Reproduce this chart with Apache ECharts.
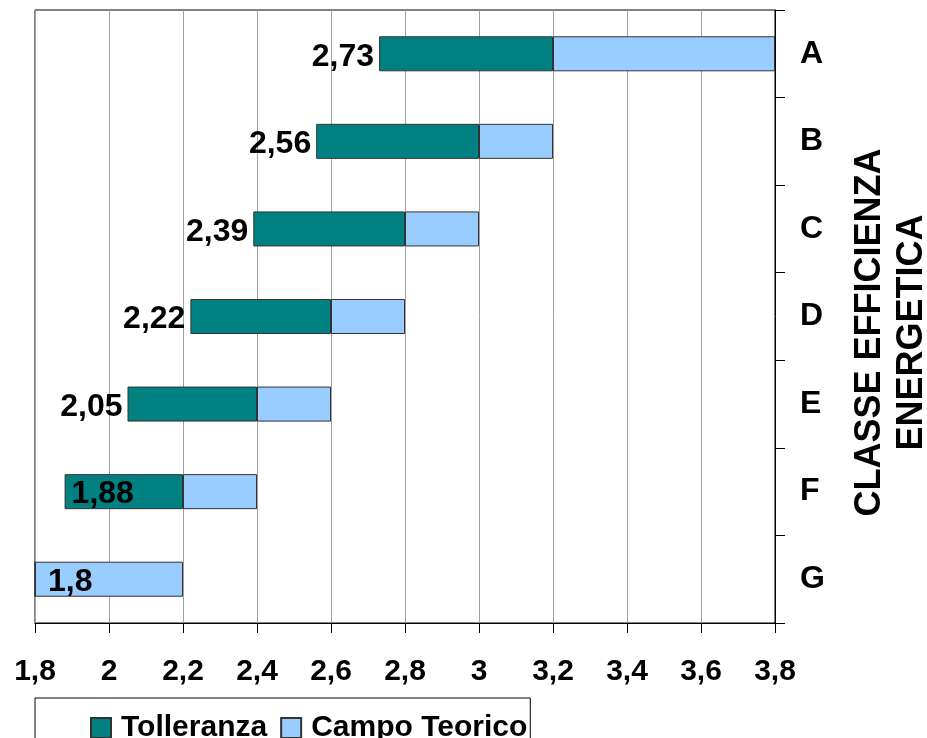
<!DOCTYPE html>
<html>
<head>
<meta charset="utf-8">
<script src="https://cdn.jsdelivr.net/npm/echarts@6/dist/echarts.min.js"></script>
<style>
  html, body { margin: 0; padding: 0; background: #fff; }
  #chart { width: 927px; height: 738px; }
</style>
</head>
<body>
<div id="chart"></div>
<script>
// dati
var classi = ['A', 'B', 'C', 'D', 'E', 'F', 'G'];
var inizio = [2.73, 2.56, 2.39, 2.22, 2.05, 1.88, 1.8];        // valore etichettato
var fineTolleranza = [3.2, 3.0, 2.8, 2.6, 2.4, 2.2, 1.8];
var fineCampo = [3.8, 3.2, 3.0, 2.8, 2.6, 2.4, 2.2];
var xTicks = [1.8, 2, 2.2, 2.4, 2.6, 2.8, 3, 3.2, 3.4, 3.6, 3.8];

var X_MIN = xTicks[0];
var X_MAX = xTicks[xTicks.length - 1];
var FONT = '"Liberation Sans", Arial, sans-serif';

function virgola(v) {
  return String(Number(v.toFixed(2))).replace('.', ',');
}

// segmenti impilati
var tolleranza = inizio.map(function (v, i) { return +(fineTolleranza[i] - v).toFixed(2); });
var campo = fineCampo.map(function (v, i) { return +(v - fineTolleranza[i]).toFixed(2); });

// se la barra parte troppo vicino al bordo, etichetta dentro la barra
function etichettaDentro(i) { return inizio[i] - X_MIN < 0.15; }

function labelCfg(show, position, distance) {
  return {
    show: show,
    position: position,
    distance: distance,
    offset: [0, 3],
    color: '#000',
    fontFamily: FONT,
    fontWeight: 'bold',
    fontSize: 32,
    formatter: function (p) { return virgola(inizio[p.dataIndex]); }
  };
}

var baseData = inizio.map(function (v, i) {
  return { value: v, label: labelCfg(!etichettaDentro(i), 'insideRight', 5) };
});
var tolData = tolleranza.map(function (v, i) {
  return { value: v, label: labelCfg(etichettaDentro(i) && v > 0, 'insideLeft', 7) };
});
var campoData = campo.map(function (v, i) {
  return { value: v, label: labelCfg(etichettaDentro(i) && tolleranza[i] === 0, 'insideLeft', 13) };
});

var chart = echarts.init(document.getElementById('chart'));
chart.setOption({
  animation: false,
  grid: {
    left: 35, right: 152, top: 10, bottom: 115,
    outerBoundsMode: 'none',
    containLabel: false,
    show: true, borderColor: '#000', borderWidth: 1
  },
  legend: {
    data: ['Tolleranza', 'Campo Teorico'],
    left: 35, top: 698,
    orient: 'horizontal',
    itemWidth: 20, itemHeight: 20, itemGap: 13,
    padding: [15, 3, 30, 55],
    borderColor: '#000', borderWidth: 1,
    icon: 'rect',
    textStyle: { color: '#000', fontFamily: FONT, fontWeight: 'bold', fontSize: 30, padding: [0, 0, 0, 5] }
  },
  xAxis: {
    type: 'value',
    min: X_MIN, max: X_MAX, interval: 0.2,
    axisLine: { show: true, lineStyle: { color: '#000', width: 1 } },
    axisTick: { show: true, length: 10, lineStyle: { color: '#000' } },
    splitLine: { show: true, lineStyle: { color: '#a0a0a0', width: 1 } },
    axisLabel: {
      margin: 34, color: '#000', fontFamily: FONT, fontWeight: 'bold', fontSize: 30,
      formatter: function (v) { return virgola(v); }
    }
  },
  yAxis: {
    type: 'category',
    data: classi,
    inverse: true,
    position: 'right',
    name: 'CLASSE EFFICIENZA\nENERGETICA',
    nameLocation: 'middle',
    nameRotate: 90,
    nameGap: 74,
    nameTextStyle: {
      color: '#000', fontFamily: FONT, fontWeight: 'bold', fontSize: 36, lineHeight: 42,
      padding: [0, 32, 0, 0]
    },
    axisLine: { show: true, lineStyle: { color: '#000', width: 1 } },
    axisTick: { show: true, length: 10, lineStyle: { color: '#000' } },
    axisLabel: { margin: 25, color: '#000', fontFamily: FONT, fontWeight: 'bold', fontSize: 32 },
    splitLine: { show: false }
  },
  series: [
    {
      name: 'base',
      type: 'bar',
      stack: 'tot',
      barWidth: '40%',
      silent: true,
      itemStyle: { color: 'rgba(0,0,0,0)', borderWidth: 0 },
      data: baseData
    },
    {
      name: 'Tolleranza',
      type: 'bar',
      stack: 'tot',
      barWidth: '40%',
      itemStyle: { color: '#008080', borderColor: '#333', borderWidth: 1 },
      data: tolData
    },
    {
      name: 'Campo Teorico',
      type: 'bar',
      stack: 'tot',
      barWidth: '40%',
      itemStyle: { color: '#99ccff', borderColor: '#333', borderWidth: 1 },
      data: campoData
    }
  ]
});
</script>
</body>
</html>
